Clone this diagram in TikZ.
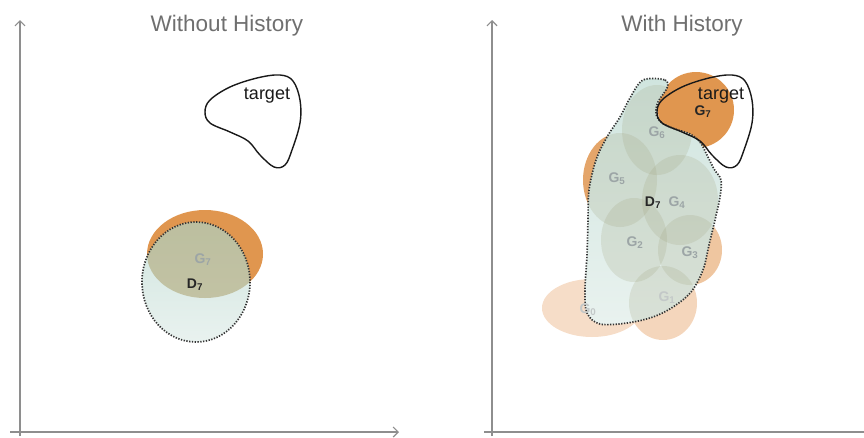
\documentclass[tikz,border=0pt]{standalone}
\usepackage{fontspec}
\setmainfont{Liberation Sans}
\usetikzlibrary{arrows.meta}
\definecolor{axisgray}{HTML}{8E8E8E}
\definecolor{titlegray}{HTML}{6F6F6F}
\definecolor{orangeA}{HTML}{E0964F}
\definecolor{orangeB}{HTML}{E4A56A}
\definecolor{orangeC}{HTML}{EFC6A0}
\definecolor{orangeD}{HTML}{F4D6BC}
\definecolor{orangeE}{HTML}{F6DDC8}
\definecolor{tealA}{HTML}{D0E5DF}
\definecolor{tealB}{HTML}{E9F2EF}
\definecolor{olive}{HTML}{A0A37E}
\definecolor{oliveL}{HTML}{AFA676}
\definecolor{glabel}{HTML}{9CA5A6}
\definecolor{glabelL}{HTML}{C3C8C8}
\tikzset{
  axisline/.style={draw=axisgray, line width=1.4pt},
  axisarrow/.style={-{Straight Barb[length=5pt,width=10pt,line width=1.2pt]}},
  titletext/.style={text=titlegray, font=\fontsize{22.5}{25}\selectfont, anchor=base},
  targetline/.style={draw=black!90, line width=1.4pt},
  dotline/.style={draw=black!80, line width=1.7pt, dash pattern=on 1.3pt off 1.5pt},
  tealfill/.style={top color=tealA, bottom color=tealB},
  olivefill/.style={fill=olive, opacity=0.21},
  glab/.style={text=glabel, font=\bfseries\fontsize{14}{16}\selectfont},
  glabL/.style={text=glabelL, font=\bfseries\fontsize{14}{16}\selectfont},
  dlab/.style={text=black!85, font=\bfseries\fontsize{14}{16}\selectfont},
  tlab/.style={text=black!90, font=\fontsize{18}{20}\selectfont, anchor=base},
}
\def\targetpts{(205,112) (210,123) (230,132) (248,141) (260,155) (274,167) (285,165) (292,150) (300,123) (300,100) (293,81) (280,75) (257,78) (230,87) (210,100)}
\def\dsevpts{(643,80) (665,80) (667,88) (658,102) (656,114) (662,123) (675,129) (690,134) (700,142) (707,155) (714,169) (721,180) (720,197) (715,220) (709,245) (703,270) (691,292) (673,307) (653,317) (627,323) (600,324) (587,313) (585,290) (587,255) (588,220) (589,190) (596,160) (607,137) (620,117) (630,98)}
\begin{document}
\begin{tikzpicture}[x=1pt,y=-1pt]
\useasboundingbox (0,0) rectangle (864,437);
% ---------- axes ----------
\coordinate (lyb) at (20,436);
\coordinate (lyt) at (20,20);
\coordinate (lxl) at (10,432);
\coordinate (lxr) at (399,432);
\coordinate (ryb) at (492,436);
\coordinate (ryt) at (492,20);
\coordinate (rxl) at (484,432);
\coordinate (rxr) at (864,432);
\draw[axisline, axisarrow] (lyb) -- (lyt);
\draw[axisline, axisarrow] (lxl) -- (lxr);
\draw[axisline, axisarrow] (ryb) -- (ryt);
\draw[axisline] (rxl) -- (rxr);
% ---------- titles ----------
\node[titletext] (t1) at (227,31) {Without History};
\node[titletext] (t2) at (682,31) {With History};
% ---------- left panel ----------
\fill[orangeA] (205,254) ellipse [x radius=58, y radius=44];
\path[tealfill] (196,282) ellipse [x radius=54, y radius=60];
\begin{scope}
  \clip (196,282) ellipse [x radius=54, y radius=60];
  \fill[oliveL, opacity=0.6] (205,254) ellipse [x radius=58, y radius=44];
\end{scope}
\draw[dotline] (196,282) ellipse [x radius=54, y radius=60];
\draw[targetline] plot[smooth cycle, tension=0.6] coordinates {\targetpts};
\node[tlab] (lt) at (267,99) {target};
\node[glab] (lg7) at (203,260) {G\textsubscript{7}};
\node[dlab] (ld7) at (195,285) {D\textsubscript{7}};
% ---------- right panel ----------
\fill[orangeE] (592,308) ellipse [x radius=50, y radius=29];
\fill[orangeD] (663,303) ellipse [x radius=34, y radius=37];
\fill[orangeC] (690,250) ellipse [x radius=32, y radius=35];
\fill[orangeB] (620,180) ellipse [x radius=37, y radius=47];
\fill[orangeA] (696,110) ellipse [x radius=38, y radius=38];
\path[tealfill] plot[smooth cycle, tension=0.55] coordinates {\dsevpts};
\begin{scope}
  \clip plot[smooth cycle, tension=0.55] coordinates {\dsevpts};
  \fill[olivefill] (663,303) ellipse [x radius=34, y radius=37];
  \fill[olivefill] (634,240) ellipse [x radius=33, y radius=42];
  \fill[olivefill] (690,250) ellipse [x radius=32, y radius=35];
  \fill[olivefill] (680,200) ellipse [x radius=38, y radius=45];
  \fill[olivefill] (620,180) ellipse [x radius=37, y radius=47];
  \fill[olivefill] (657,130) ellipse [x radius=35, y radius=45];
\end{scope}
\draw[dotline] plot[smooth cycle, tension=0.55] coordinates {\dsevpts};
\begin{scope}[shift={(452,0)}]
  \draw[targetline] plot[smooth cycle, tension=0.6] coordinates {\targetpts};
\end{scope}
\node[tlab] (rt) at (721,99) {target};
\node[dlab] (rg7) at (703,112) {G\textsubscript{7}};
\node[glab] (rg6) at (657,133) {G\textsubscript{6}};
\node[glab] (rg5) at (617,179) {G\textsubscript{5}};
\node[dlab] (rd7) at (653,203) {D\textsubscript{7}};
\node[glab] (rg4) at (677,203) {G\textsubscript{4}};
\node[glab] (rg2) at (635,243) {G\textsubscript{2}};
\node[glab] (rg3) at (690,253) {G\textsubscript{3}};
\node[glabL] (rg1) at (667,298) {G\textsubscript{1}};
\node[glabL] (rg0) at (588,310) {G\textsubscript{0}};
\end{tikzpicture}
\end{document}
